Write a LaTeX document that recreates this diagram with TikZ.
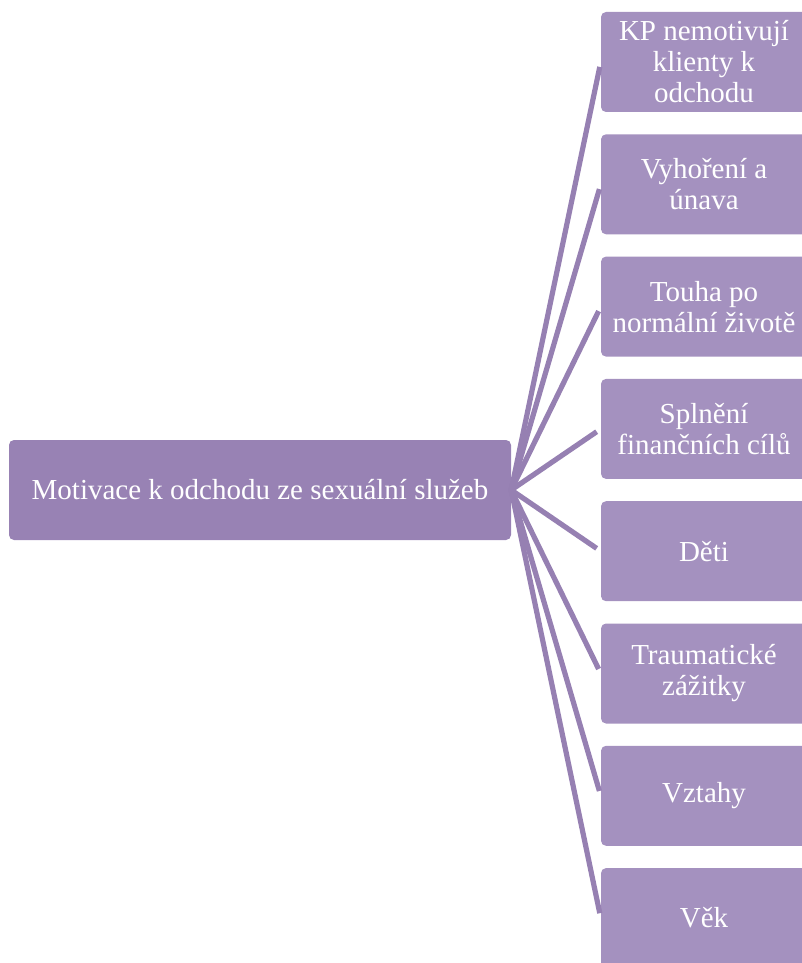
\documentclass[tikz,border=0pt]{standalone}
\usepackage{fontspec}
\setmainfont{Liberation Serif}
\definecolor{rootfill}{RGB}{152,130,180}
\definecolor{childfill}{RGB}{164,145,191}
\definecolor{connfill}{RGB}{150,128,178}
\tikzset{
  rootbox/.style={fill=rootfill, rounded corners=5pt, minimum width=502pt, minimum height=100pt,
    text=white, font=\fontsize{29}{31}\selectfont, inner sep=0pt, align=center},
  childbox/.style={fill=childfill, rounded corners=5pt, minimum width=206pt, minimum height=100pt,
    text=white, font=\fontsize{29}{31}\selectfont, inner sep=0pt, align=center},
  conn/.style={draw=connfill, line width=5.2pt, shorten >=5pt}
}
\begin{document}
\begin{tikzpicture}[x=1pt,y=-1pt]
\useasboundingbox (0,0) rectangle (802,963);
\node[rootbox] (root) at (260,490) {Motivace k odchodu ze sexuální služeb};
\node[childbox] (c1) at (704,62) {KP nemotivují\\klienty k\\odchodu};
\node[childbox] (c2) at (704,184.3) {Vyhoření a\\únava};
\node[childbox] (c3) at (704,306.6) {Touha po\\normální životě};
\node[childbox] (c4) at (704,428.9) {Splnění\\finančních cílů};
\node[childbox] (c5) at (704,551.2) {Děti};
\node[childbox] (c6) at (704,673.5) {Traumatické\\zážitky};
\node[childbox] (c7) at (704,795.8) {Vztahy};
\node[childbox] (c8) at (704,918.1) {Věk};
\foreach \c in {c1,c2,c3,c4,c5,c6,c7,c8}
  \draw[conn] (root.east) -- (\c.west);
\end{tikzpicture}
\end{document}
